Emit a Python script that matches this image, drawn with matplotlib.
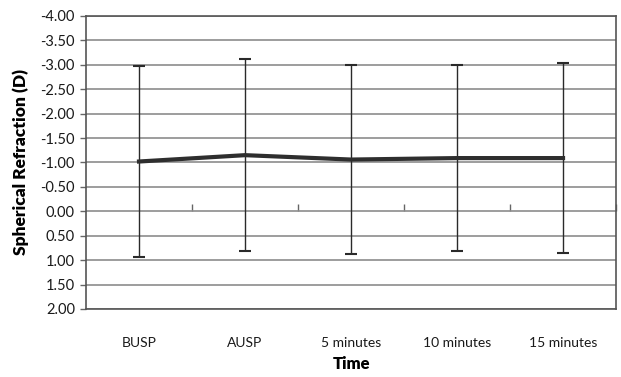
import numpy as np
import matplotlib
matplotlib.use('Agg')
from matplotlib import pyplot as plt

times = ['BUSP', 'AUSP', '5 minutes', '10 minutes', '15 minutes']
refraction = [-1.02, -1.15, -1.06, -1.09, -1.09]
sd = [1.95, 1.96, 1.94, 1.91, 1.94]
y_ticks = [-4.0, -3.5, -3.0, -2.5, -2.0, -1.5, -1.0, -0.5, 0.0, 0.5, 1.0, 1.5, 2.0]

plt.rcParams['font.family'] = ['Lato', 'DejaVu Sans']

x = np.arange(len(times))

fig = plt.figure(figsize=(6.21, 3.77), dpi=100)
ax = fig.add_axes([0.1385, 0.1804, 0.8535, 0.7772])

ax.set_ylim(2.0, -4.0)
ax.set_xlim(-0.5, len(times) - 0.5)
ax.set_yticks(y_ticks)
ax.set_yticklabels(['%.2f' % v for v in y_ticks], fontsize=10.5, color='#1a1a1a')
ax.yaxis.grid(True, color='#8c8c8c', linewidth=1.2)
ax.set_axisbelow(True)

ax.errorbar(x, refraction, yerr=sd, fmt='none', ecolor='#2a2a2a',
            elinewidth=1.0, capsize=4, capthick=1.5, zorder=2)
ax.plot(x, refraction, color='#2e2e2e', linewidth=3.0, zorder=3)

ax.set_xticks(x)
ax.set_xticklabels(times, fontsize=10, color='#1a1a1a')
ax.tick_params(axis='x', length=0, pad=20)
ax.tick_params(axis='y', length=4, width=1, color='#666666', pad=4)

for s in ax.spines.values():
    s.set_color('#555555')
    s.set_linewidth(1.2)

# category boundary ticks on the zero line
sec = ax.secondary_xaxis(1.0 / 3.0)
sec.set_xticks(np.arange(0.5, len(times), 1.0))
sec.tick_params(axis='x', direction='in', length=5, width=1, color='#666666', labelbottom=False, labeltop=False)
sec.spines['bottom'].set_visible(False)
sec.spines['top'].set_visible(False)

ax.set_xlabel('Time', fontsize=12, fontweight='heavy', labelpad=5)
ax.set_ylabel('Spherical Refraction (D)', fontsize=12.5, fontweight='heavy', labelpad=8)

fig.savefig('out.png', dpi=100)
